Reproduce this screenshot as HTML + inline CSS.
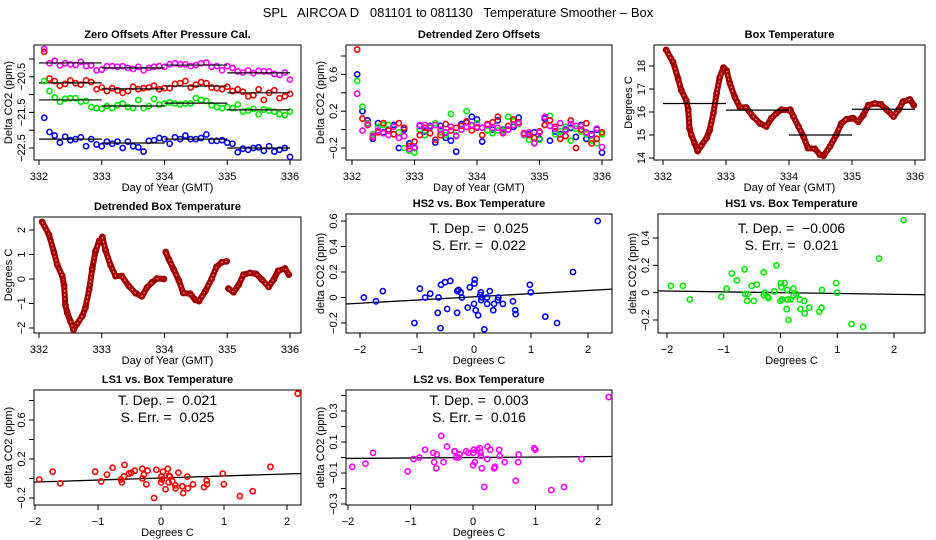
<!DOCTYPE html>
<html><head><meta charset="utf-8">
<style>
html,body{margin:0;padding:0;background:#fff;}
svg{display:block;font-family:"Liberation Sans",sans-serif;}
.pre{white-space:pre;}
</style></head>
<body>
<svg id="fig" width="936" height="540" viewBox="0 0 936 540">
<text class="pre" x="458" y="17" font-size="13" text-anchor="middle">SPL   AIRCOA D   081101 to 081130   Temperature Smoother – Box</text>
</svg>
<script>
const co2Times=[332.083,332.167,332.25,332.333,332.417,332.5,332.583,332.667,332.75,332.833,332.917,333.0,
333.083,333.167,333.25,333.333,333.417,333.5,333.583,333.667,333.75,333.833,333.917,334.0,
334.083,334.167,334.25,334.333,334.417,334.5,334.583,334.667,334.75,334.833,334.917,335.0,
335.083,335.167,335.25,335.333,335.417,335.5,335.583,335.667,335.75,335.833,335.917,336.0];
const ls2=[-19.72,-20.12,-20.05,-20.18,-20.12,-20.15,-20.17,-20.08,-20.2,-20.18,-20.32,-20.3,
-20.2,-20.2,-20.22,-20.2,-20.25,-20.28,-20.22,-20.32,-20.25,-20.22,-20.2,-20.22,
-20.15,-20.12,-20.15,-20.15,-20.2,-20.17,-20.12,-20.1,-20.22,-20.2,-20.32,-20.2,
-20.25,-20.35,-20.38,-20.32,-20.4,-20.33,-20.35,-20.35,-20.42,-20.45,-20.38,-20.58];
const ls1=[-19.8,-20.55,-20.62,-20.75,-20.7,-20.6,-20.68,-20.72,-20.6,-20.65,-20.85,-20.8,
-20.9,-20.82,-20.88,-20.95,-20.9,-20.78,-20.85,-20.82,-20.8,-20.75,-20.85,-20.82,
-20.82,-20.7,-20.68,-20.62,-20.8,-20.72,-20.65,-20.68,-20.8,-20.82,-20.85,-20.78,
-20.9,-20.85,-20.92,-21.05,-21.02,-20.85,-21.15,-20.95,-20.88,-21.1,-21.05,-20.98];
const hs1=[-20.62,-20.9,-21.08,-21.2,-21.12,-21.1,-21.1,-21.2,-21.18,-21.35,-21.38,-21.4,
-21.32,-21.38,-21.3,-21.25,-21.35,-21.38,-21.15,-21.38,-21.32,-21.12,-21.28,-21.25,
-21.22,-21.25,-21.28,-21.25,-21.25,-21.1,-21.15,-21.18,-21.3,-21.35,-21.38,-21.35,
-21.38,-21.28,-21.48,-21.45,-21.4,-21.55,-21.42,-21.45,-21.48,-21.55,-21.58,-21.48];
const hs2=[-21.65,-22.05,-22.15,-22.35,-22.18,-22.28,-22.25,-22.2,-22.45,-22.25,-22.4,-22.45,
-22.32,-22.38,-22.32,-22.5,-22.32,-22.45,-22.48,-22.6,-22.3,-22.28,-22.22,-22.25,
-22.38,-22.2,-22.25,-22.15,-22.25,-22.25,-22.22,-22.12,-22.3,-22.3,-22.28,-22.35,
-22.38,-22.62,-22.52,-22.55,-22.5,-22.48,-22.58,-22.45,-22.6,-22.55,-22.5,-22.75];
const ls2Means=[-20.11,-20.25,-20.17,-20.39];
const ls1Means=[-20.67,-20.84,-20.76,-20.95];
const hs1Means=[-21.15,-21.32,-21.24,-21.43];
const hs2Means=[-22.25,-22.36,-22.25,-22.5];
const tempTimes=[332.05,332.16,332.24,332.29,332.37,332.4,332.42,332.45,332.5,332.55,332.61,332.69,332.74,332.8,332.85,332.9,332.96,
333.01,333.06,333.14,333.22,333.32,333.43,333.54,333.64,333.72,333.8,333.88,333.99,
334.02,334.07,334.15,334.23,334.3,334.41,334.49,334.55,334.65,334.75,334.83,334.91,334.99,
335.02,335.1,335.18,335.26,335.36,335.46,335.55,335.66,335.74,335.81,335.92,335.98];
const tempVals=[18.7,18.17,17.45,16.95,16.5,16.1,15.3,15.0,14.65,14.3,14.55,14.86,15.2,15.95,16.8,17.5,17.93,
17.8,17.25,16.65,16.2,16.2,15.8,15.5,15.37,15.73,15.94,16.1,16.08,
16.1,15.8,15.37,14.93,14.43,14.4,14.15,14.1,14.5,15.0,15.5,15.68,15.72,
15.73,15.58,15.87,16.3,16.37,16.33,16.1,15.8,16.1,16.45,16.55,16.3];
const tempMeans=[16.37,16.08,15.0,16.12];
const tDep=[0.025,-0.006,0.021,0.003];
const sErr=[0.022,0.021,0.025,0.016];
const intercepts=[0.005,0.0,0.005,0.0];
const dayTicks=[332,333,334,335,336];
const degTicks=[-2,-1,0,1,2];

const NS='http://www.w3.org/2000/svg';
const svg=document.getElementById('fig');
function E(tag,attrs,parent){const e=document.createElementNS(NS,tag);for(const k in attrs)e.setAttribute(k,attrs[k]);(parent||svg).appendChild(e);return e;}
function lin(v1,p1,v2,p2){return v=>p1+(v-v1)*(p2-p1)/(v2-v1);}
function seg(t){return Math.max(0,Math.min(3,Math.floor(t-332-1e-6)));}
function interpTemp(t){
  if(t<=tempTimes[0])return tempVals[0];
  for(let i=1;i<tempTimes.length;i++){if(t<=tempTimes[i]){const f=(t-tempTimes[i-1])/(tempTimes[i]-tempTimes[i-1]);return tempVals[i-1]+f*(tempVals[i]-tempVals[i-1]);}}
  return tempVals[tempVals.length-1];
}
function fmt(v){const s=Math.abs(v)<1e-9?'0':String(+v.toFixed(2));return s.replace('-','\u2212');}

function panel(o){
  const g=E('g',{});
  
  
  const [L,T,R,B]=o.box;
  const sx=lin(o.x[0],o.x[1],o.x[2],o.x[3]);
  const sy=lin(o.y[0],o.y[1],o.y[2],o.y[3]);
  const box=E('rect',{x:L,y:T,width:R-L,height:B-T,fill:'none',stroke:'#000','stroke-width':1},g);
  
  
  const title=E('text',{x:(L+R)/2,y:T-7,'font-size':11,'font-weight':'bold','text-anchor':'middle'},g);
  
  
  title.textContent=o.title;
  const xa=E('g',{},g);
  
  
  E('line',{x1:sx(o.xt[0]),x2:sx(o.xt[o.xt.length-1]),y1:B,y2:B,stroke:'#000'},xa);
  o.xt.forEach(v=>{
    E('line',{x1:sx(v),x2:sx(v),y1:B,y2:B+5,stroke:'#000'},xa);
    const t=E('text',{x:sx(v),y:B+20,'font-size':11,'text-anchor':'middle'},xa);
    
    
    t.textContent=fmt(v);
  });
  const xl=E('text',{x:(L+R)/2,y:B+31,'font-size':11,'text-anchor':'middle'},g);
  
  
  xl.textContent=o.xlab;
  const ya=E('g',{},g);
  
  
  E('line',{x1:L,x2:L,y1:sy(o.yt[0]),y2:sy(o.yt[o.yt.length-1]),stroke:'#000'},ya);
  o.yt.forEach(v=>{
    E('line',{x1:L,x2:L-5,y1:sy(v),y2:sy(v),stroke:'#000'},ya);
  });
  o.yl.forEach(v=>{
    const t=E('text',{x:0,y:0,'font-size':11,'text-anchor':'middle',transform:`translate(${L-9},${sy(v)}) rotate(-90)`},ya);
    
    
    t.textContent=fmt(v);
  });
  const yl=E('text',{x:0,y:0,'font-size':11,'text-anchor':'middle',transform:`translate(${L-22},${(T+B)/2}) rotate(-90)`},g);
  
  
  yl.textContent=o.ylab;
  return {g,sx,sy,L,R,T,B};
}
function dot(p,x,y,col,name){
  const c=E('circle',{cx:p.sx(x),cy:p.sy(y),r:2.6,fill:'none',stroke:col,'stroke-width':1.6},p.g);
  
  
}
function hseg(p,x1,x2,y){
  const l=E('line',{x1:p.sx(x1),x2:p.sx(x2),y1:p.sy(y),y2:p.sy(y),stroke:'#000','stroke-width':1.2},p.g);
  
  
}
const series=[{v:ls2,m:ls2Means,c:'#ff00ff',n:'ls2'},{v:ls1,m:ls1Means,c:'#ff0000',n:'ls1'},{v:hs1,m:hs1Means,c:'#00ee00',n:'hs1'},{v:hs2,m:hs2Means,c:'#0000ff',n:'hs2'}];

const p1=panel({name:'zero-offsets-panel',box:[34,45,301,160],x:[332,39,336,290],y:[-20,59,-22.5,148],xt:dayTicks,
  yt:[-20,-20.5,-21,-21.5,-22,-22.5],yl:[-20.5,-21.5,-22.5],title:'Zero Offsets After Pressure Cal.',xlab:'Day of Year (GMT)',ylab:'Delta CO2 (ppm)'});
series.forEach(s=>{
  s.v.forEach((v,i)=>dot(p1,co2Times[i],v,s.c,s.n+'-point'));
  s.m.forEach((m,k)=>hseg(p1,332+k,333+k,m));
});
const p2=panel({name:'detrended-zero-offsets-panel',box:[346,45,612,160],x:[332,352,336,602],y:[0.8,56,-0.2,148],xt:dayTicks,
  yt:[-0.2,0,0.2,0.4,0.6,0.8],yl:[-0.2,0.2,0.6],title:'Detrended Zero Offsets',xlab:'Day of Year (GMT)',ylab:'Delta CO2 (ppm)'});
[series[3],series[2],series[1],series[0]].forEach(s=>{
  s.v.forEach((v,i)=>dot(p2,co2Times[i],v-s.m[seg(co2Times[i])],s.c,s.n+'-detrended-point'));
});
function tempLine(p,vals,name){
  const pts=tempTimes.map((t,i)=>p.sx(t)+','+p.sy(vals[i])).join(' ');
  const a=E('polyline',{points:pts,fill:'none',stroke:'#a00000','stroke-width':6,'stroke-linejoin':'round','stroke-linecap':'round'},p.g);
  
  
  const b=E('polyline',{points:pts,fill:'none',stroke:'#ff8080','stroke-width':1.2,'stroke-dasharray':'2 2'},p.g);
  
  
  tempTimes.forEach((t,i)=>dot(p,t,vals[i],'#a00000',name+'-point'));
}
const p3=panel({name:'box-temperature-panel',box:[654,45,925,160],x:[332,663,336,915],y:[18,66,14,158],xt:dayTicks,
  yt:[14,15,16,17,18],yl:[14,15,16,17,18],title:'Box Temperature',xlab:'Day of Year (GMT)',ylab:'Degrees C'});
tempLine(p3,tempVals,'temperature');
tempMeans.forEach((m,k)=>hseg(p3,332+k,333+k,m));
const p4=panel({name:'detrended-box-temperature-panel',box:[34,217,301,333],x:[332,39,336,290],y:[2,230,-2,328],xt:dayTicks,
  yt:[-2,-1,0,1,2],yl:[-2,-1,0,1,2],title:'Detrended Box Temperature',xlab:'Day of Year (GMT)',ylab:'Degrees C'});
for(let k=0;k<4;k++){
  const idx=tempTimes.map((t,i)=>i).filter(i=>seg(tempTimes[i])===k);
  const pts=idx.map(i=>p4.sx(tempTimes[i])+','+p4.sy(tempVals[i]-tempMeans[k])).join(' ');
  const a=E('polyline',{points:pts,fill:'none',stroke:'#a00000','stroke-width':6,'stroke-linejoin':'round','stroke-linecap':'round'},p4.g);
  
  
  const b=E('polyline',{points:pts,fill:'none',stroke:'#ff8080','stroke-width':1.2,'stroke-dasharray':'2 2'},p4.g);
  
  
  idx.forEach(i=>dot(p4,tempTimes[i],tempVals[i]-tempMeans[k],'#a00000','detrended-temperature-point'));
}
const scatDefs=[
 {s:series[3],k:0,name:'hs2-scatter-panel',title:'HS2 vs. Box Temperature',box:[346,214,612,333],x:[-2,360,2,588],y:[0.6,221,-0.2,323],yt:[-0.2,0,0.2,0.4,0.6],yl:[-0.2,0,0.2,0.4,0.6],ty:[228,245]},
 {s:series[2],k:1,name:'hs1-scatter-panel',title:'HS1 vs. Box Temperature',box:[658,214,925,333],x:[-2,667,2,894],y:[0.4,238,-0.2,320],yt:[-0.2,0,0.2,0.4],yl:[-0.2,0,0.2,0.4],ty:[228,245]},
 {s:series[1],k:2,name:'ls1-scatter-panel',title:'LS1 vs. Box Temperature',box:[34,390,301,505],x:[-2,35,2,287],y:[0.6,420,-0.2,498],yt:[-0.2,0,0.2,0.4,0.6,0.8],yl:[-0.2,0.2,0.6],ty:[400,417]},
 {s:series[0],k:3,name:'ls2-scatter-panel',title:'LS2 vs. Box Temperature',box:[346,390,612,505],x:[-2,348,2,598],y:[0.3,411,-0.3,504],yt:[-0.3,-0.2,-0.1,0,0.1,0.2,0.3,0.4],yl:[-0.3,-0.1,0.1,0.3],ty:[400,417]}
];
scatDefs.forEach(d=>{
  const p=panel({name:d.name,box:d.box,x:d.x,y:d.y,xt:degTicks,yt:d.yt,yl:d.yl,title:d.title,xlab:'Degrees C',ylab:'delta CO2 (ppm)'});
  const x0=(p.L-p.sx(0))/(p.sx(1)-p.sx(0)), x1=(p.R-p.sx(0))/(p.sx(1)-p.sx(0));
  const rl=E('line',{x1:p.L,x2:p.R,y1:p.sy(intercepts[d.k]+tDep[d.k]*x0),y2:p.sy(intercepts[d.k]+tDep[d.k]*x1),stroke:'#000','stroke-width':1.3},p.g);
  
  
  d.s.v.forEach((v,i)=>{
    const t=co2Times[i],k=seg(t);
    dot(p,interpTemp(t)-tempMeans[k],v-d.s.m[k],d.s.c,d.s.n+'-scatter-point');
  });
  const cx=(p.L+p.R)/2;
  const a=E('text',{x:cx,y:d.ty[0]+5,'font-size':14,'text-anchor':'middle',class:'pre'},p.g);
  
  
  a.textContent='T. Dep. =  '+tDep[d.k].toFixed(3).replace('-','\u2212');
  const b=E('text',{x:cx,y:d.ty[1]+5,'font-size':14,'text-anchor':'middle',class:'pre'},p.g);
  
  
  b.textContent='S. Err. =  '+sErr[d.k].toFixed(3);
});
</script>
</body></html>
